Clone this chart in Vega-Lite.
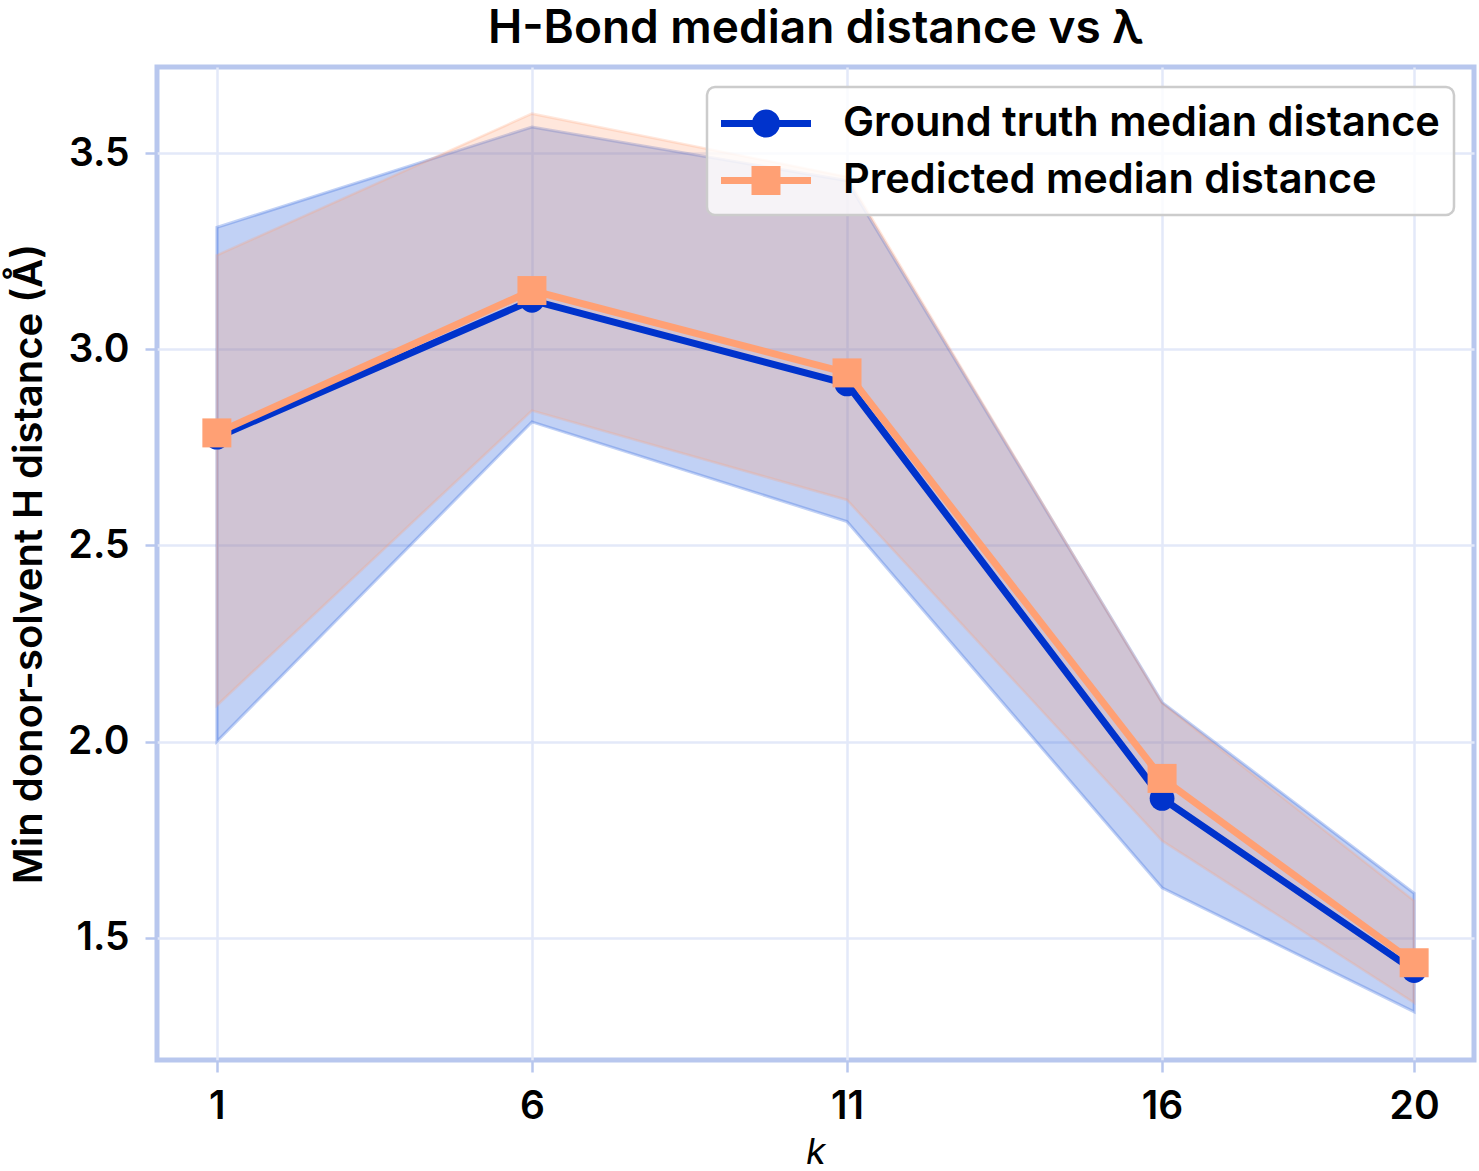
{
  "$schema": "https://vega.github.io/schema/vega-lite/v6.json",
  "width": 1317,
  "height": 993,
  "autosize": {"type": "none"},
  "padding": {"left": 157, "top": 67, "right": 5, "bottom": 111},
  "background": "white",
  "title": {
    "text": "H-Bond median distance vs λ",
    "font": "Inter",
    "fontSize": 46,
    "fontWeight": 600,
    "color": "black",
    "anchor": "middle",
    "offset": 14
  },
  "config": {
    "view": {"stroke": "#b8c7ee", "strokeWidth": 5},
    "axis": {
      "domain": false,
      "grid": true,
      "gridColor": "#e3e9f9",
      "gridWidth": 2.5,
      "ticks": true,
      "tickColor": "#b8c7ee",
      "tickWidth": 2.5,
      "tickSize": 12,
      "labelFont": "Inter",
      "labelFontSize": 39,
      "labelFontWeight": 600,
      "labelColor": "black",
      "titleFont": "Inter",
      "titleFontSize": 40,
      "titleFontWeight": 600,
      "titleColor": "black"
    }
  },
  "data": {
    "values": [
      {"k": 1, "series": "Ground truth median distance", "median": 2.776, "lo": 2.000, "hi": 3.311},
      {"k": 6, "series": "Ground truth median distance", "median": 3.125, "lo": 2.815, "hi": 3.567},
      {"k": 11, "series": "Ground truth median distance", "median": 2.912, "lo": 2.561, "hi": 3.430},
      {"k": 16, "series": "Ground truth median distance", "median": 1.855, "lo": 1.627, "hi": 2.100},
      {"k": 20, "series": "Ground truth median distance", "median": 1.416, "lo": 1.311, "hi": 1.613},
      {"k": 1, "series": "Predicted median distance", "median": 2.787, "lo": 2.092, "hi": 3.240},
      {"k": 6, "series": "Predicted median distance", "median": 3.150, "lo": 2.844, "hi": 3.601},
      {"k": 11, "series": "Predicted median distance", "median": 2.940, "lo": 2.616, "hi": 3.440},
      {"k": 16, "series": "Predicted median distance", "median": 1.906, "lo": 1.747, "hi": 2.098},
      {"k": 20, "series": "Predicted median distance", "median": 1.436, "lo": 1.334, "hi": 1.594}
    ]
  },
  "encoding": {
    "x": {
      "field": "k",
      "type": "quantitative",
      "scale": {"domain": [0.05, 20.95], "nice": false, "zero": false},
      "axis": {
        "values": [1, 6, 11, 16, 20],
        "labelPadding": 15,
        "title": "k",
        "titleFontStyle": "italic",
        "titleFontWeight": 400,
        "titleFontSize": 36,
        "titlePadding": 9
      }
    }
  },
  "layer": [
    {
      "transform": [{"filter": "datum.series === 'Ground truth median distance'"}],
      "mark": {"type": "area", "fill": "#3366dd", "fillOpacity": 0.3, "stroke": "#3366dd", "strokeOpacity": 0.3, "strokeWidth": 3},
      "encoding": {
        "y": {
          "field": "lo",
          "type": "quantitative",
          "scale": {"domain": [1.188, 3.72], "nice": false, "zero": false},
          "axis": {
            "values": [1.5, 2.0, 2.5, 3.0, 3.5],
            "format": ".1f",
            "labelPadding": 16,
            "title": "Min donor-solvent H distance (Å)",
            "titlePadding": 18
          }
        },
        "y2": {"field": "hi"}
      }
    },
    {
      "transform": [{"filter": "datum.series === 'Predicted median distance'"}],
      "mark": {"type": "area", "fill": "#ffa074", "fillOpacity": 0.25, "stroke": "#ffa074", "strokeOpacity": 0.25, "strokeWidth": 2.5},
      "encoding": {
        "y": {"field": "lo", "type": "quantitative"},
        "y2": {"field": "hi"}
      }
    },
    {
      "transform": [{"filter": "datum.series === 'Ground truth median distance'"}],
      "mark": {"type": "line", "strokeWidth": 7},
      "encoding": {
        "y": {"field": "median", "type": "quantitative"},
        "color": {
          "field": "series",
          "type": "nominal",
          "scale": {
            "domain": ["Ground truth median distance", "Predicted median distance"],
            "range": ["#0033cc", "#ffa074"]
          },
          "legend": {
            "title": null,
            "orient": "top-right",
            "offset": 20,
            "fillColor": "rgba(255,255,255,0.8)",
            "strokeColor": "#cccccc",
            "cornerRadius": 8,
            "padding": 14,
            "rowPadding": 14,
            "symbolSize": 2025,
            "symbolStrokeWidth": 0,
            "labelOffset": 77,
            "labelFont": "Inter",
            "labelFontSize": 41.5,
            "labelFontWeight": 600,
            "labelColor": "black",
            "labelLimit": 1000,
            "encode": {
              "legend": {"update": {"strokeWidth": {"value": 2.5}}},
              "symbols": {
                "update": {
                  "shape": {"signal": "datum.value === 'Ground truth median distance' ? 'M-1,-0.156L3,-0.156L3,0.156L-1,0.156Z M1.622,0A0.622,0.622 0 1,1 0.378,0A0.622,0.622 0 1,1 1.622,0Z' : 'M-1,-0.156L3,-0.156L3,0.156L-1,0.156Z M0.356,-0.644L1.644,-0.644L1.644,0.644L0.356,0.644Z'"},
                  "fill": {"signal": "datum.value === 'Ground truth median distance' ? '#0033cc' : '#ffa074'"},
                  "stroke": {"value": "transparent"},
                  "opacity": {"value": 1},
                  "fillOpacity": {"value": 1}
                }
              }
            }
          }
        }
      }
    },
    {
      "transform": [{"filter": "datum.series === 'Ground truth median distance'"}],
      "mark": {"type": "point", "shape": "circle", "filled": true, "opacity": 1, "size": 615},
      "encoding": {
        "y": {"field": "median", "type": "quantitative"},
        "color": {"field": "series", "type": "nominal"}
      }
    },
    {
      "transform": [{"filter": "datum.series === 'Predicted median distance'"}],
      "mark": {"type": "line", "strokeWidth": 7},
      "encoding": {
        "y": {"field": "median", "type": "quantitative"},
        "color": {"field": "series", "type": "nominal"}
      }
    },
    {
      "transform": [{"filter": "datum.series === 'Predicted median distance'"}],
      "mark": {"type": "point", "shape": "square", "filled": true, "opacity": 1, "size": 841},
      "encoding": {
        "y": {"field": "median", "type": "quantitative"},
        "color": {"field": "series", "type": "nominal"}
      }
    }
  ]
}
